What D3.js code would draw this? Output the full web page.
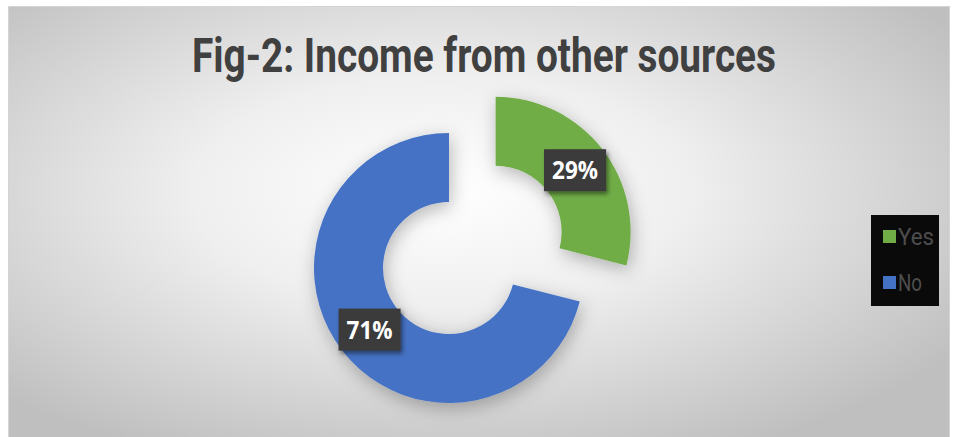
<!DOCTYPE html>
<html>
<head>
<meta charset="utf-8">
<script src="https://cdn.jsdelivr.net/npm/d3@7"></script>
<style>
  body { margin: 0; background: #fff; }
</style>
</head>
<body>
<div id="chart"></div>
<script>
const categories = ["Yes", "No"];
const values = [29, 71];
const colors = ["#70AD47", "#4472C4"];
const title = "Fig-2: Income from other sources";

const width = 953, height = 437;
const frame = {x: 8.5, y: 6.5, w: 941, h: 440};
const cx = 449, cy = 268;
const outerR = 135, innerR = 66;
const explode = 59;

const svg = d3.select("#chart").append("svg")
    .attr("width", width)
    .attr("height", height);

const defs = svg.append("defs");

const grad = defs.append("radialGradient")
    .attr("id", "bg")
    .attr("cx", "46%").attr("cy", "42%").attr("r", "66%");
grad.append("stop").attr("offset", "0%").attr("stop-color", "#ffffff");
grad.append("stop").attr("offset", "40%").attr("stop-color", "#efefef");
grad.append("stop").attr("offset", "100%").attr("stop-color", "#bfbfbf");

const shadow = defs.append("filter").attr("id", "shadow")
    .attr("x", "-30%").attr("y", "-30%").attr("width", "160%").attr("height", "160%");
shadow.append("feDropShadow")
    .attr("dx", 2).attr("dy", 5).attr("stdDeviation", 9)
    .attr("flood-color", "#000").attr("flood-opacity", 0.28);

const boxShadow = defs.append("filter").attr("id", "boxShadow")
    .attr("x", "-20%").attr("y", "-20%").attr("width", "150%").attr("height", "160%");
boxShadow.append("feDropShadow")
    .attr("dx", 2).attr("dy", 3).attr("stdDeviation", 2)
    .attr("flood-color", "#000").attr("flood-opacity", 0.45);

svg.append("rect")
    .attr("x", frame.x).attr("y", frame.y)
    .attr("width", frame.w).attr("height", frame.h)
    .attr("fill", "url(#bg)")
    .attr("stroke", "#d4d4d4")
    .attr("stroke-width", 1);

svg.append("text")
    .attr("x", 484)
    .attr("y", 72)
    .attr("text-anchor", "middle")
    .attr("font-family", "Roboto, 'DejaVu Sans Condensed', sans-serif")
    .attr("font-weight", "bold")
    .attr("font-size", 48)
    .attr("fill", "#404040")
    .attr("textLength", 584)
    .attr("lengthAdjust", "spacingAndGlyphs")
    .text(title);

const pie = d3.pie().sort(null).value(d => d.value);
const data = categories.map((c, i) => ({name: c, value: values[i], color: colors[i]}));
const arcs = pie(data);

const arc = d3.arc().innerRadius(innerR).outerRadius(outerR);
const total = d3.sum(values);

function offset(d, i) {
    if (i !== 0) return [0, 0];
    const a = (d.startAngle + d.endAngle) / 2;
    return [explode * Math.sin(a), -explode * Math.cos(a)];
}

const g = svg.append("g")
    .attr("transform", `translate(${cx},${cy})`)
    .attr("filter", "url(#shadow)");

g.selectAll("path")
    .data(arcs)
    .enter()
    .append("path")
    .attr("transform", (d, i) => `translate(${offset(d, i)})`)
    .attr("d", arc)
    .attr("fill", d => d.data.color);

const labels = svg.append("g")
    .attr("transform", `translate(${cx},${cy})`);

const lab = labels.selectAll("g")
    .data(arcs)
    .enter()
    .append("g")
    .attr("transform", (d, i) => {
        const c = arc.centroid(d);
        const o = offset(d, i);
        return `translate(${c[0] + o[0]},${c[1] + o[1]})`;
    });

lab.append("rect")
    .attr("x", -31).attr("y", -21)
    .attr("width", 62).attr("height", 42)
    .attr("fill", "#3a3a3a")
    .attr("filter", "url(#boxShadow)");

lab.append("text")
    .attr("text-anchor", "middle")
    .attr("dy", "0.36em")
    .attr("font-family", "'Open Sans', 'DejaVu Sans', sans-serif")
    .attr("font-weight", "bold")
    .attr("font-size", 25)
    .attr("fill", "#ffffff")
    .attr("textLength", 46)
    .attr("lengthAdjust", "spacingAndGlyphs")
    .text(d => Math.round(d.data.value / total * 100) + "%");

const legend = svg.append("g").attr("transform", "translate(871,215)");
legend.append("rect")
    .attr("width", 68).attr("height", 91)
    .attr("fill", "#0a0a0a");

const item = legend.selectAll("g.item")
    .data(data)
    .enter()
    .append("g")
    .attr("class", "item")
    .attr("transform", (d, i) => `translate(12,${15 + i * 46})`);

item.append("rect")
    .attr("width", 13).attr("height", 13)
    .attr("fill", d => d.color);

item.append("text")
    .attr("x", 15)
    .attr("y", 15)
    .attr("font-family", "Roboto, 'DejaVu Sans Condensed', sans-serif")
    .attr("font-size", 23)
    .attr("fill", "#4d4d4d")
    .attr("textLength", d => d.name.length * 12)
    .attr("lengthAdjust", "spacingAndGlyphs")
    .text(d => d.name);
</script>
</body>
</html>
